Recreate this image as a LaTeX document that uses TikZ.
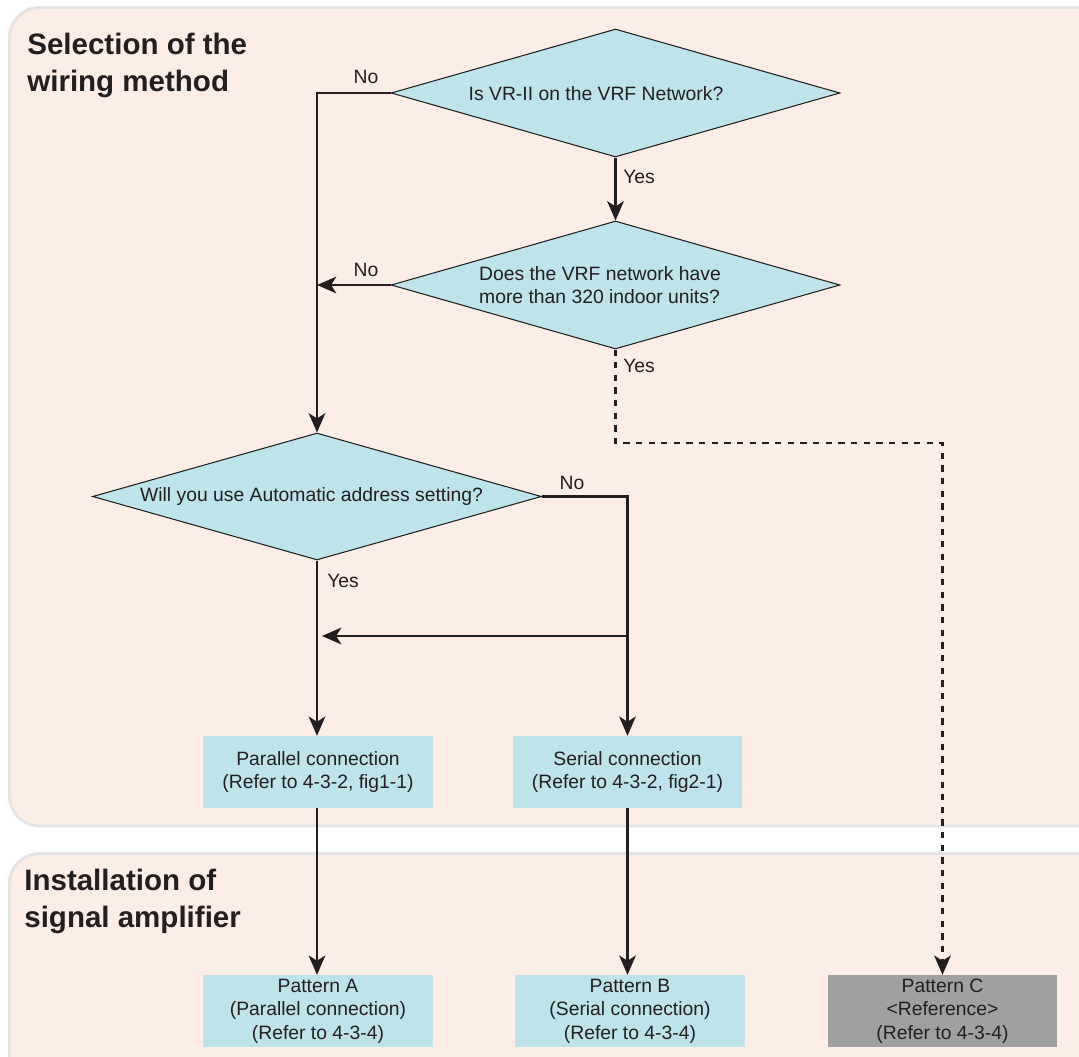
\documentclass[tikz,border=0pt]{standalone}
\usepackage{fontspec}
\setmainfont{Liberation Sans}
\usetikzlibrary{shapes.geometric,arrows.meta}

\definecolor{panelfill}{HTML}{FCEDE6}
\definecolor{panelrim}{HTML}{E4E4E4}
\definecolor{boxfill}{HTML}{BEE3EA}
\definecolor{refgray}{HTML}{A0A0A0}
\definecolor{ink}{HTML}{231F20}

\begin{document}
\begin{tikzpicture}[x=0.02cm, y=-0.02cm,
  panel/.style={fill=panelfill, draw=panelrim, line width=1.7pt, rounded corners=0.6cm},
  heading/.style={font=\fontsize{16.8}{21}\selectfont\bfseries, text=ink, align=left, inner sep=0pt},
  body/.style={font=\fontsize{11}{13.4}\selectfont, text=ink},
  decision/.style={diamond, fill=boxfill, draw=ink, line width=0.6pt, inner sep=0pt,
    minimum width=8.98cm, minimum height=2.56cm},
  stepbox/.style={rectangle, fill=boxfill, inner sep=0pt, minimum width=4.6cm, minimum height=1.434cm,
    body, align=center},
  refbox/.style={stepbox, fill=refgray},
  flow/.style={draw=ink, line width=1.2pt},
  tip/.style={-{Stealth[length=11pt, width=9.5pt, inset=3pt]}},
  answer/.style={body, inner sep=0pt}
]
\useasboundingbox (0,0) rectangle (1079,1057);
\clip (0,0) rectangle (1079,1057);

% background panels
\path[panel] (9.5,7.5) rectangle (1110,826);
\path[panel] (9.5,853.5) rectangle (1110,1090);

% section headings
\node[heading, anchor=north west] (h1) at (27,33) {Selection of the\\wiring method};
\node[heading, anchor=north west] (h2) at (24,869) {Installation of\\signal amplifier};

% decisions
\node[decision] (d1) at (615.5,93) {};
\node[body] at (596,94) {Is VR-II on the VRF Network?};
\node[decision] (d2) at (615.5,285) {};
\node[body, align=left] at (600,285) {Does the VRF network have\\more than 320 indoor units?};
\node[decision, minimum height=2.54cm] (d3) at (317,496.5) {};
\node[body] at (311.5,497) {Will you use Automatic address setting?};

% wiring methods
\node[stepbox] (par) at (318,772) {Parallel connection\\(Refer to 4-3-2, fig1-1)};
\node[stepbox] (ser) at (627.5,772) {Serial connection\\(Refer to 4-3-2, fig2-1)};

% amplifier patterns
\node[stepbox] (pa) at (318,1011) {Pattern A\\(Parallel connection)\\(Refer to 4-3-4)};
\node[stepbox] (pb) at (630,1011) {Pattern B\\(Serial connection)\\(Refer to 4-3-4)};
\node[refbox] (pc) at (942.5,1011) {Pattern C\\<Reference>\\(Refer to 4-3-4)};

% bend points
\coordinate (yesbend) at (615.5,443);
\coordinate (merge) at (627.5,636);

% connectors
\draw[flow, tip] (d1.west) -| (d3.north);
\draw[flow, tip] (d1.south) -- (d2.north);
\draw[flow, tip] (d2.west) -- (d2.west -| d3.north);
\draw[flow, tip, dashed, dash pattern=on 3.6pt off 3.6pt] (d2.south) -- (yesbend) -| (pc.north);
\draw[flow, tip] (d3.east) -| (ser.north);
\draw[flow, tip] (d3.south) -- (d3.south |- par.north);
\draw[flow, tip, shorten >=0.1cm] (merge) -- (merge -| d3.south);
\draw[flow, tip] (d3.south |- par.south) -- (d3.south |- pa.north);
\draw[flow, tip] (ser.south) -- (ser.south |- pb.north);

% answer labels
\node[answer] (n1) at (366,77) {No};
\node[answer, anchor=west] (y1) at (623,177) {Yes};
\node[answer] (n2) at (366,270) {No};
\node[answer, anchor=west] (y2) at (623,366) {Yes};
\node[answer] (n3) at (572,483) {No};
\node[answer, anchor=west] (y3) at (327,581) {Yes};
\end{tikzpicture}
\end{document}
